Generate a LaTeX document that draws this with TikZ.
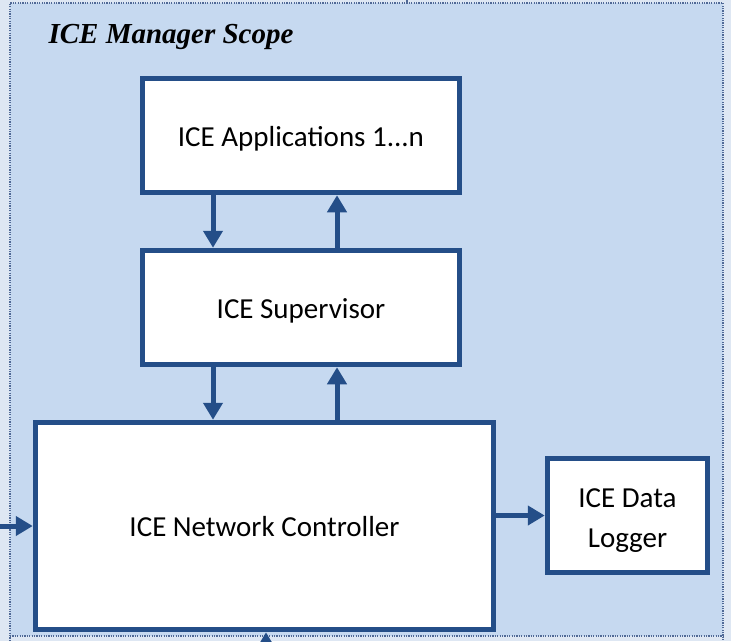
\documentclass[tikz,border=0pt]{standalone}
\usepackage{fontspec}
\setmainfont{Carlito}
\newfontfamily\titlefont{Liberation Serif}
\usetikzlibrary{arrows.meta}
\definecolor{bgout}{RGB}{222,231,243}
\definecolor{bgin}{RGB}{198,217,240}
\definecolor{boxblue}{RGB}{36,78,136}
\definecolor{dotblue}{RGB}{80,105,150}
\tikzset{
  blk/.style={draw=boxblue, line width=5.5pt, fill=white, inner sep=0pt, align=center,
    font=\fontsize{29}{40}\selectfont, text=black, text height=26pt, text depth=5pt},
  flow/.style={draw=boxblue, line width=5pt, -{Triangle[width=19pt,length=17pt]}},
  scopeline/.style={draw=dotblue, line width=1.3pt, dash pattern=on 1.2pt off 1.2pt},
}
\begin{document}
\begin{tikzpicture}[x=1pt,y=-1pt]
\useasboundingbox (0,0) rectangle (731,641);
\fill[bgout] (0,0) rectangle (731,641);
\fill[bgin] (10,3) rectangle (723,636);
\draw[scopeline] (10,641) -- (10,3) -- (723,3) -- (723,641);
\draw[scopeline] (10,636) -- (723,636);
\coordinate (topstub) at (407,0);
\coordinate (topstubend) at (407,3);
\draw[draw=dotblue, line width=1.3pt] (topstub) -- (topstubend);

\node[anchor=base west, font=\titlefont\bfseries\itshape\fontsize{29}{34}\selectfont] (title) at (45,43) {ICE Manager Scope};

\node[blk, minimum width=317pt, minimum height=114pt] (app) at (301,135.5) {ICE Applications 1...n};
\node[blk, minimum width=317pt, minimum height=114pt] (sup) at (301,307.5) {ICE Supervisor};
\node[blk, minimum width=458pt, minimum height=207pt] (nc) at (264.5,526) {ICE Network Controller};
\node[blk, minimum width=160pt, minimum height=114pt, text height=69pt, text depth=5pt] (log) at (627.5,515.5) {ICE Data\\Logger};

\coordinate (xl) at (213,0);
\coordinate (xr) at (337,0);
\coordinate (inL) at (0,526);
\coordinate (inB) at (266,641);

\draw[flow] (app.south -| xl) -- (sup.north -| xl);
\draw[flow] (sup.north -| xr) -- (app.south -| xr);
\draw[flow] (sup.south -| xl) -- (nc.north -| xl);
\draw[flow] (nc.north -| xr) -- (sup.south -| xr);
\draw[flow] (nc.east |- log.west) -- (log.west);
\draw[flow] (inL) -- (inL -| nc.west);
\draw[flow] (inB) -- (inB |- nc.south);
\end{tikzpicture}
\end{document}
